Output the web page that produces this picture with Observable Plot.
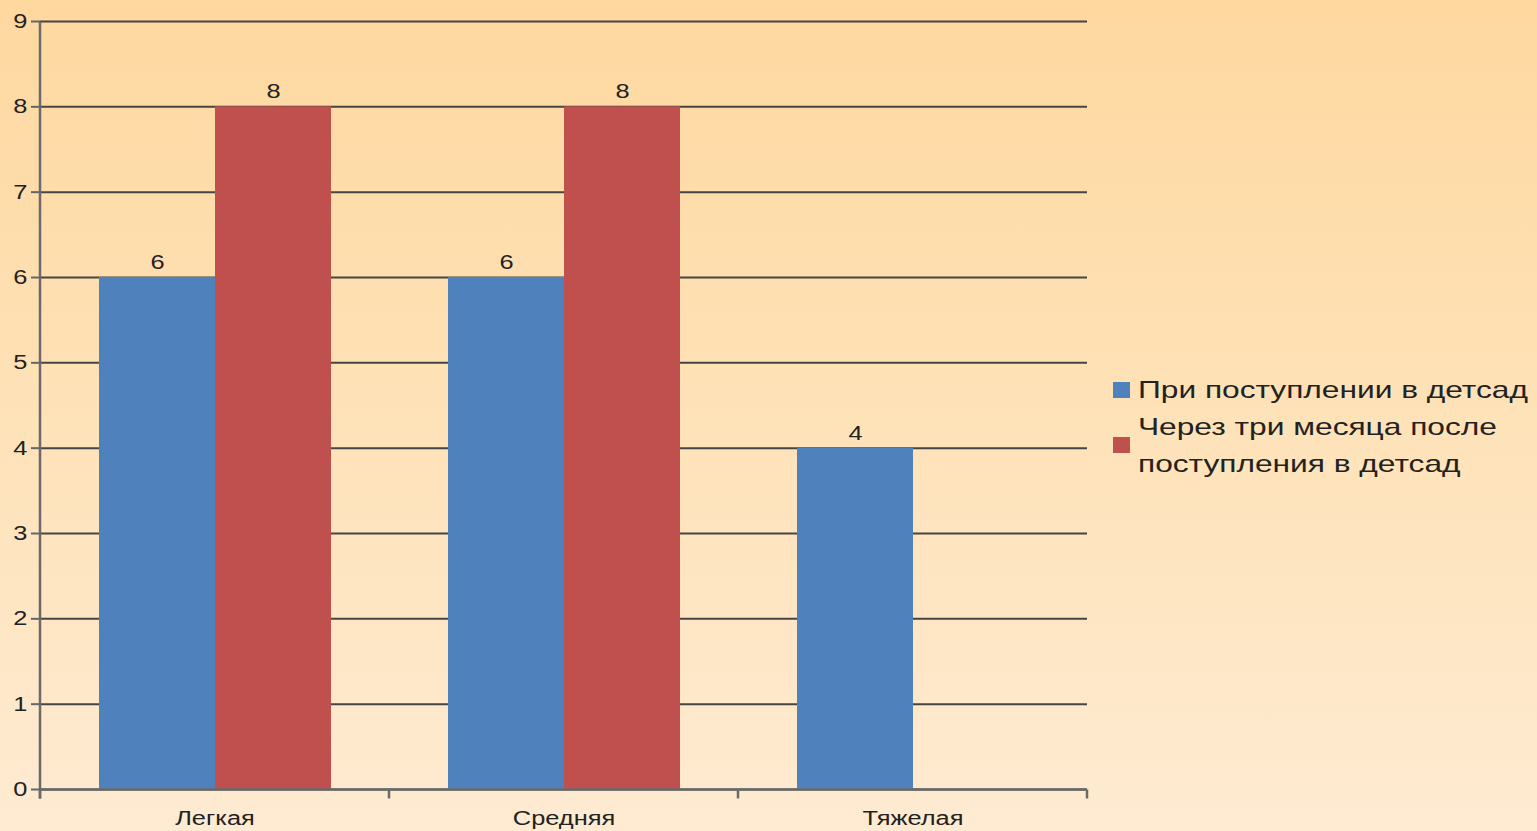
<!DOCTYPE html>
<html>
<head>
<meta charset="utf-8">
<script src="https://cdn.jsdelivr.net/npm/d3@7"></script>
<script src="https://cdn.jsdelivr.net/npm/@observablehq/plot@0.6"></script>
<style>
  html, body { margin: 0; padding: 0; }
  body {
    width: 1537px; height: 831px; overflow: hidden; position: relative;
    background: linear-gradient(to bottom, #fed89f 0%, #fee2b8 50%, #feebd2 100%);
    font-family: "Liberation Sans", Arial, sans-serif;
  }
  #chart { position: absolute; left: 0; top: 0; }
  #legend {
    position: absolute; left: 1113px; top: 371px;
    font-size: 24px; color: #222; line-height: 37px;
  }
  .item { display: flex; align-items: center; }
  .sw { width: 17px; height: 16px; margin-right: 8px; flex: none; }
  .txt { transform: scaleX(1.32); transform-origin: left center; white-space: nowrap; }
</style>
</head>
<body>
<div id="chart"></div>
<div id="legend"></div>
<script>
const categories = ["Легкая", "Средняя", "Тяжелая"];
const seriesNames = ["При поступлении в детсад", "Через три месяца после поступления в детсад"];
const legendLines = [["При поступлении в детсад"], ["Через три месяца после", "поступления в детсад"]];
const valuesOnArrival = [6, 6, 4];
const valuesAfterThreeMonths = [8, 8, null];
const yTicks = [0, 1, 2, 3, 4, 5, 6, 7, 8, 9];
const colors = ["#4f81bd", "#c0504d"];

const rows = categories.flatMap((cat, i) => [
  {cat, series: seriesNames[0], value: valuesOnArrival[i]},
  {cat, series: seriesNames[1], value: valuesAfterThreeMonths[i]}
]).filter(d => d.value != null);

const baseRows = categories.map(cat => ({cat}));

const chart = Plot.plot({
  width: 1100,
  height: 831,
  marginLeft: 40,
  marginRight: 13,
  marginTop: 21,
  marginBottom: 42,
  style: {background: "transparent", fontFamily: "'Liberation Sans', Arial, sans-serif", color: "#222"},
  fx: {domain: categories, padding: 0, label: null, axis: null},
  x: {domain: seriesNames, paddingInner: 0, paddingOuter: 0.504, axis: null},
  y: {domain: [0, 9], ticks: yTicks, label: null, axis: null},
  color: {domain: seriesNames, range: colors},
  marks: [
    Plot.gridY(yTicks, {stroke: "#454545", strokeOpacity: 1, strokeWidth: 2}),
    Plot.barY(rows, {fx: "cat", x: "series", y: "value", fill: "series"}),
    Plot.text(rows, {fx: "cat", x: "series", y: "value", text: d => String(d.value), dy: -15, fontSize: 20, fill: "#222"}),
    Plot.axisY(yTicks, {tickSize: 9, tickPadding: 4, fontSize: 20, stroke: "#666", strokeWidth: 2, fill: "#222", label: null, tickFormat: d3.format("d")}),
    Plot.axisFx({anchor: "bottom", tickSize: 0, tickPadding: 21, fontSize: 20, fill: "#222", label: null}),
    Plot.ruleY(baseRows, {
      fx: "cat", y: () => 0, stroke: "#6a6a6a", strokeWidth: 2.5,
      render(index, scales, values, dimensions, context, next) {
        const g = next(index, scales, values, dimensions, context);
        const line = g.querySelector("line");
        if (!line) return g;
        const x1 = +line.getAttribute("x1");
        const x2 = +line.getAttribute("x2");
        const y0 = scales.y(0);
        const yTop = scales.y(9);
        const ns = "http://www.w3.org/2000/svg";
        const add = (x, ya, yb) => {
          const l = document.createElementNS(ns, "line");
          l.setAttribute("x1", x); l.setAttribute("x2", x);
          l.setAttribute("y1", ya); l.setAttribute("y2", yb);
          l.setAttribute("stroke", "#6a6a6a");
          l.setAttribute("stroke-width", 2.5);
          g.appendChild(l);
        };
        add(x1, y0, y0 + 9);
        if (index[0] === 0) add(x1, yTop, y0 + 9);
        if (index[0] === categories.length - 1) add(x2, y0, y0 + 9);
        return g;
      }
    })
  ]
});

// the reference's lettering is stretched horizontally
const stretch = 1.27;
chart.querySelectorAll("text").forEach(t => {
  const tr = t.getAttribute("transform") || "";
  const x = +(t.getAttribute("x") || 0);
  t.setAttribute("transform", `${tr} translate(${x},0) scale(${stretch},1) translate(${-x},0)`);
});
document.getElementById("chart").appendChild(chart);

const legend = document.getElementById("legend");
seriesNames.forEach((name, i) => {
  const item = document.createElement("div");
  item.className = "item";
  const sw = document.createElement("div");
  sw.className = "sw";
  sw.style.background = colors[i];
  const txt = document.createElement("div");
  txt.className = "txt";
  txt.innerHTML = legendLines[i].join("<br>");
  item.appendChild(sw);
  item.appendChild(txt);
  legend.appendChild(item);
});
</script>
</body>
</html>
